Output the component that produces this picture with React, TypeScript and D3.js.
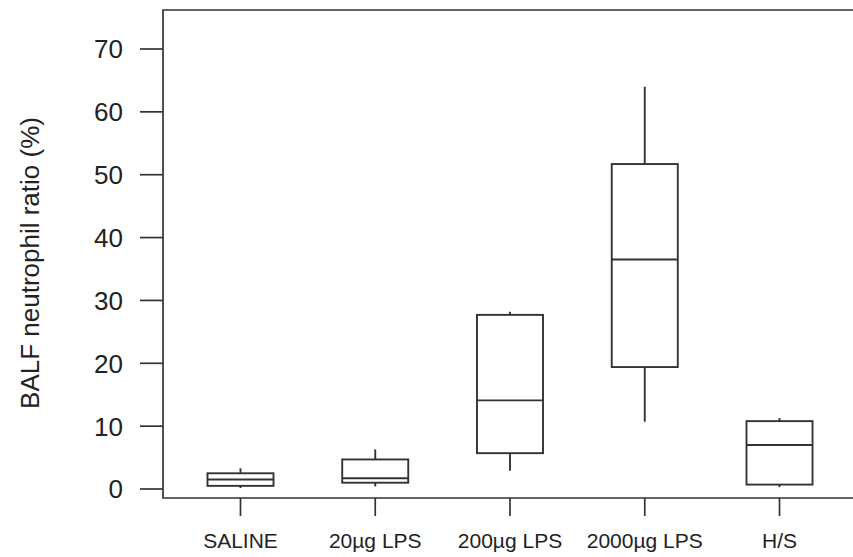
import * as d3 from 'd3'

// group labels along the x axis
const groups = ['SALINE', '20µg LPS', '200µg LPS', '2000µg LPS', 'H/S']

// box-plot stats (% neutrophils)
const whiskerLow = [0.15, 0.4, 2.9, 10.7, 0.3]
const q1 = [0.5, 1.0, 5.7, 19.4, 0.7]
const medians = [1.5, 1.7, 14.1, 36.5, 7.0]
const q3 = [2.5, 4.7, 27.7, 51.7, 10.8]
const whiskerHigh = [3.3, 6.3, 28.2, 64.0, 11.3]

const yTicks = [0, 10, 20, 30, 40, 50, 60, 70]

const W = 853
const H = 557
const ink = '#333'
const font = '"Liberation Sans", Arial, Helvetica, sans-serif'

export default function App() {
  // frame edges
  const left = 163
  const right = 857
  const top = 10
  const bottom = 498

  const x = d3.scalePoint<string>().domain(groups).range([left, right]).padding(0.575)
  const y = d3.scaleLinear().domain([0, 70]).range([489, 49])
  const boxW = x.step() * 0.49

  return (
    <svg
      width={W}
      height={H}
      style={{ position: 'absolute', left: 0, top: 0, background: '#fff' }}
      fontFamily={font}
    >
      {/* frame: left axis, top line, bottom axis (right side runs off the picture) */}
      <path
        d={`M${right},${top}H${left}V${bottom}H${right}`}
        fill="none"
        stroke={ink}
        strokeWidth={1.7}
      />

      {/* y axis ticks + labels */}
      {yTicks.map((t) => (
        <g key={t} transform={`translate(0,${y(t)})`}>
          <line x1={left - 23} x2={left} stroke={ink} strokeWidth={1.7} />
          <text x={123} dy="0.36em" textAnchor="end" fontSize={26} fill="#222">
            {t}
          </text>
        </g>
      ))}

      <text
        transform={`translate(39,263) rotate(-90)`}
        textAnchor="middle"
        fontSize={26}
        fill="#222"
      >
        BALF neutrophil ratio (%)
      </text>

      {/* x ticks below the baseline */}
      {groups.map((g) => (
        <g key={g} transform={`translate(${x(g)},0)`}>
          <line y1={bottom} y2={bottom + 18} stroke={ink} strokeWidth={1.7} />
          <text y={548} textAnchor="middle" fontSize={21} fill="#222">
            {g}
          </text>
        </g>
      ))}

      {/* boxes */}
      {groups.map((g, i) => {
        const cx = x(g) as number
        return (
          <g key={g} fill="none" stroke={ink} strokeWidth={1.9}>
            <line x1={cx} x2={cx} y1={y(whiskerHigh[i])} y2={y(q3[i])} />
            <line x1={cx} x2={cx} y1={y(q1[i])} y2={y(whiskerLow[i])} />
            <rect x={cx - boxW / 2} y={y(q3[i])} width={boxW} height={y(q1[i]) - y(q3[i])} />
            <line x1={cx - boxW / 2} x2={cx + boxW / 2} y1={y(medians[i])} y2={y(medians[i])} />
          </g>
        )
      })}
    </svg>
  )
}
